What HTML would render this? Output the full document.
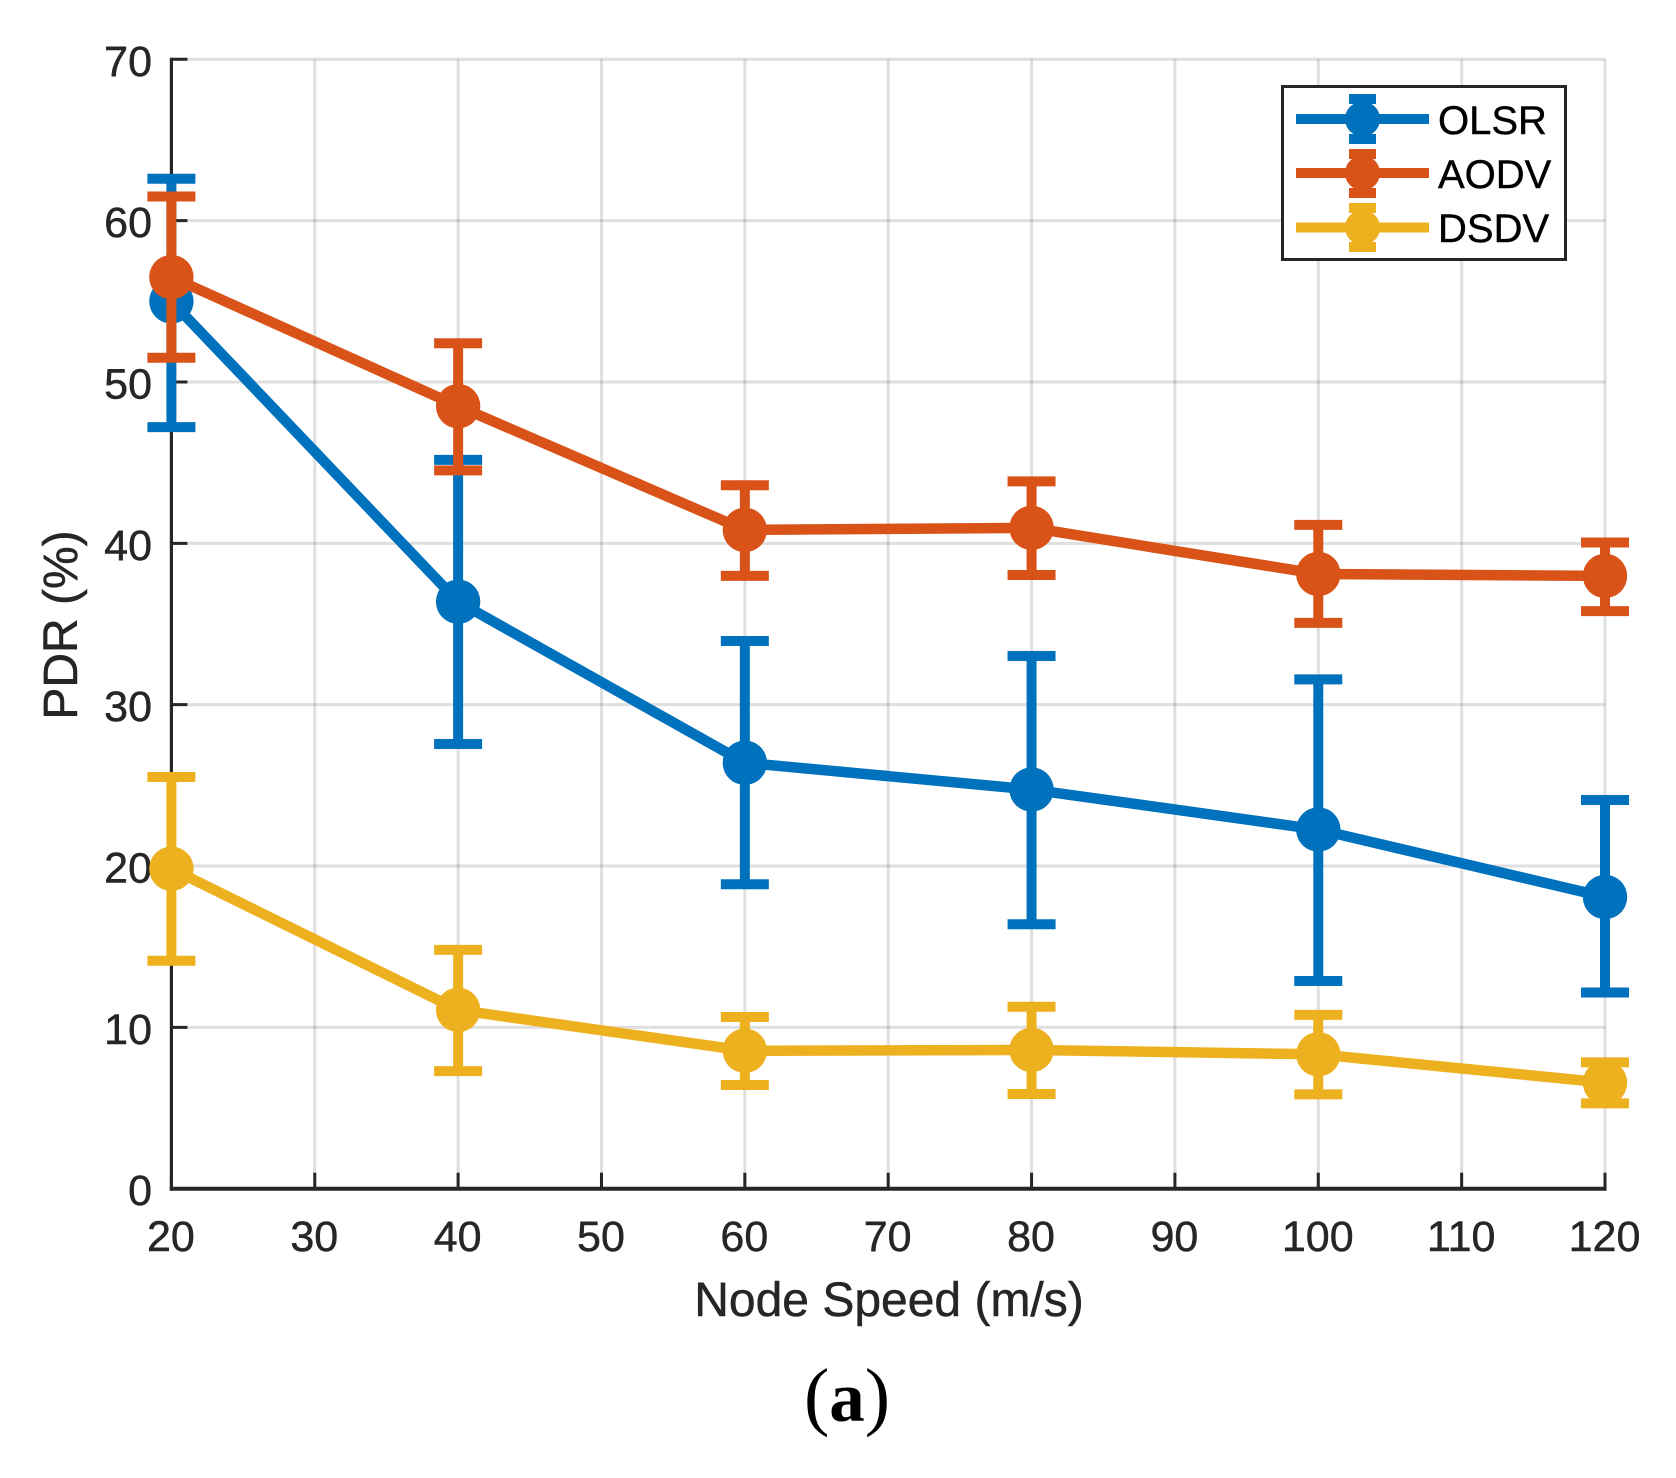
<!DOCTYPE html>
<html lang="en">
<head>
<meta charset="utf-8">
<title>PDR vs Node Speed</title>
<style>
html,body{margin:0;padding:0;background:#fff;}
svg{display:block;}
text{font-family:"Liberation Sans",Arial,sans-serif;}
.heavy{stroke:#262626;stroke-width:0.5;}
.heavy-black{stroke:#000000;stroke-width:0.4;}
</style>
</head>
<body>
<svg id="chart" xmlns="http://www.w3.org/2000/svg" width="1676" height="1478" viewBox="0 0 1676 1478">
  <rect x="0" y="0" width="1676" height="1478" fill="#ffffff"/>
  <g id="grid"></g>
  <g id="axes"></g>
  <g id="series"></g>
  <text class="heavy" x="889" y="1316" text-anchor="middle" font-size="48" fill="#262626">Node Speed (m/s)</text>
  <text class="heavy" x="0" y="0" transform="translate(77 625) rotate(-90)" text-anchor="middle" font-size="48" fill="#262626">PDR (%)</text>
  <text x="847" y="1421" text-anchor="middle" font-size="76" fill="#000000" style="font-family:'Liberation Serif',serif">(<tspan font-weight="bold" font-size="71">a</tspan>)</text>
  <g>
    <rect x="1282.5" y="86.5" width="283" height="173" fill="#ffffff" stroke="#262626" stroke-width="3"/>
    <g>
      <rect x="1349" y="94" width="27" height="10" fill="#0072BD"/>
      <rect x="1349" y="134" width="27" height="10" fill="#0072BD"/>
      <line x1="1296" x2="1429" y1="119" y2="119" stroke="#0072BD" stroke-width="10"/>
      <circle cx="1362.5" cy="119" r="17.5" fill="#0072BD"/>
      <text class="heavy-black" x="1438" y="134" font-size="40" fill="#000000">OLSR</text>
    </g>
    <g>
      <rect x="1349" y="149" width="27" height="10" fill="#D95319"/>
      <rect x="1349" y="188" width="27" height="10" fill="#D95319"/>
      <line x1="1296" x2="1429" y1="173" y2="173" stroke="#D95319" stroke-width="10"/>
      <circle cx="1362.5" cy="173" r="17.5" fill="#D95319"/>
      <text class="heavy-black" x="1438" y="188" font-size="40" fill="#000000">AODV</text>
    </g>
    <g>
      <rect x="1349" y="203" width="27" height="10" fill="#EDB120"/>
      <rect x="1349" y="242" width="27" height="10" fill="#EDB120"/>
      <line x1="1296" x2="1429" y1="227.5" y2="227.5" stroke="#EDB120" stroke-width="10"/>
      <circle cx="1362.5" cy="227.5" r="17.5" fill="#EDB120"/>
      <text class="heavy-black" x="1438" y="242" font-size="40" fill="#000000">DSDV</text>
    </g>
  </g>
</svg>
<script>
const speeds = [20, 40, 60, 80, 100, 120];
const olsrMean = [55.0, 36.38, 26.4, 24.74, 22.26, 18.08];
const olsrUpper = [62.6, 45.17, 33.95, 33.02, 31.57, 24.09];
const olsrLower = [47.2, 27.56, 18.87, 16.39, 12.87, 12.16];
const aodvMean = [56.5, 48.5, 40.83, 40.96, 38.1, 37.98];
const aodvUpper = [61.5, 52.4, 43.6, 43.84, 41.14, 40.05];
const aodvLower = [51.5, 44.52, 37.98, 38.04, 35.07, 35.8];
const dsdvMean = [19.83, 11.08, 8.55, 8.6, 8.33, 6.57];
const dsdvUpper = [25.52, 14.8, 10.64, 11.28, 10.77, 7.83];
const dsdvLower = [14.13, 7.29, 6.43, 5.87, 5.85, 5.29];
const xTickLabels = [20, 30, 40, 50, 60, 70, 80, 90, 100, 110, 120];
const yTickLabels = [0, 10, 20, 30, 40, 50, 60, 70];

const xMin = 20, xMax = 120, yMin = 0, yMax = 70;
const plotLeft = 171.4, plotRight = 1605, plotTop = 59.3, plotBottom = 1188.7;
function sx(v) { return plotLeft + (v - xMin) / (xMax - xMin) * (plotRight - plotLeft); }
function sy(v) { return plotBottom - (v - yMin) / (yMax - yMin) * (plotBottom - plotTop); }

const NS = 'http://www.w3.org/2000/svg';
function mk(parent, tag, props, text) {
  const n = document.createElementNS(NS, tag);
  for (const k in props) n.setAttribute(k, props[k]);
  if (text !== undefined) n.textContent = text;
  parent.appendChild(n);
  return n;
}

const gridG = document.getElementById('grid');
const axesG = document.getElementById('axes');
const seriesG = document.getElementById('series');
const gridColor = '#262626', axisColor = '#262626';

xTickLabels.forEach(function (t) {
  if (t === xMin) return;
  const g = mk(gridG, 'line', { x1: sx(t), x2: sx(t), y1: sy(yMin), y2: sy(yMax), stroke: gridColor, 'stroke-opacity': 0.15, 'stroke-width': 3 });
  
  
});
yTickLabels.forEach(function (t) {
  if (t === yMin) return;
  const g = mk(gridG, 'line', { x1: sx(xMin), x2: sx(xMax), y1: sy(t), y2: sy(t), stroke: gridColor, 'stroke-opacity': 0.15, 'stroke-width': 3 });
  
  
});

const yAxisLine = mk(axesG, 'line', { x1: sx(xMin), x2: sx(xMin), y1: sy(yMax) - 1.5, y2: sy(yMin) + 2, stroke: axisColor, 'stroke-width': 3.2 });


const xAxisLine = mk(axesG, 'line', { x1: sx(xMin) - 1.6, x2: sx(xMax) + 1.6, y1: sy(yMin), y2: sy(yMin), stroke: axisColor, 'stroke-width': 4 });



xTickLabels.forEach(function (t) {
  const tick = mk(axesG, 'line', { x1: sx(t), x2: sx(t), y1: sy(yMin), y2: sy(yMin) - 16, stroke: axisColor, 'stroke-width': 3 });
  
  
  const lab = mk(axesG, 'text', { x: sx(t) - 0.5, y: 1251, 'text-anchor': 'middle', 'font-size': 43, fill: axisColor, class: 'heavy' }, String(t));
  
  
});
yTickLabels.forEach(function (t) {
  const tick = mk(axesG, 'line', { x1: sx(xMin), x2: sx(xMin) + 16, y1: sy(t), y2: sy(t), stroke: axisColor, 'stroke-width': 3 });
  
  
  const lab = mk(axesG, 'text', { x: 152, y: sy(t) + 16.5, 'text-anchor': 'end', 'font-size': 43, fill: axisColor, class: 'heavy' }, String(t));
  
  
});

function drawSeries(key, color, mean, upper, lower) {
  const g = mk(seriesG, 'g', {});
  
  
  const pts = speeds.map(function (s, i) { return sx(s) + ',' + sy(mean[i]); }).join(' ');
  const path = mk(g, 'polyline', { points: pts, fill: 'none', stroke: color, 'stroke-width': 10.5, 'stroke-linejoin': 'round' });
  
  
  speeds.forEach(function (s, i) {
    const x = sx(s);
    const stem = mk(g, 'line', { x1: x, x2: x, y1: sy(upper[i]), y2: sy(lower[i]), stroke: color, 'stroke-width': 10 });
    
    
    const capTop = mk(g, 'line', { x1: x - 24, x2: x + 24, y1: sy(upper[i]), y2: sy(upper[i]), stroke: color, 'stroke-width': 10 });
    
    
    const capBot = mk(g, 'line', { x1: x - 24, x2: x + 24, y1: sy(lower[i]), y2: sy(lower[i]), stroke: color, 'stroke-width': 10 });
    
    
    const dot = mk(g, 'circle', { cx: x, cy: sy(mean[i]), r: 22.2, fill: color });
    
    
  });
}

drawSeries('olsr', '#0072BD', olsrMean, olsrUpper, olsrLower);
drawSeries('aodv', '#D95319', aodvMean, aodvUpper, aodvLower);
drawSeries('dsdv', '#EDB120', dsdvMean, dsdvUpper, dsdvLower);
</script>
</body>
</html>
